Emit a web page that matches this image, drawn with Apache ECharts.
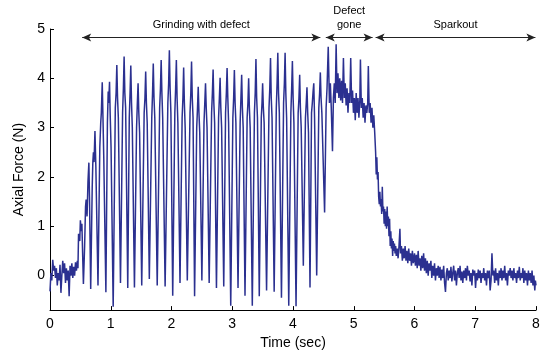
<!DOCTYPE html>
<html>
<head>
<meta charset="utf-8">
<script src="https://cdn.jsdelivr.net/npm/echarts@6/dist/echarts.min.js"></script>
<style>html,body{margin:0;padding:0;background:#fff}#c{width:558px;height:355px}</style>
</head>
<body>
<div id="c"></div>
<script>
// ---- data (time in s, axial force in N) ----
const baselineNoise = [
  [0.00,-0.32],[0.015,0.05],[0.03,-0.1],[0.045,0.32],[0.06,0.1],[0.075,0.2],[0.09,-0.05],[0.105,0.15],
  [0.12,-0.2],[0.135,0.05],[0.15,-0.1],[0.165,0.22],[0.18,-0.35],[0.195,0.0],[0.21,0.3],[0.225,0.05],
  [0.24,0.25],[0.255,-0.15],[0.27,0.15],[0.285,-0.1],[0.30,0.1],[0.315,-0.42],[0.33,0.2],[0.345,0.0],
  [0.36,0.25],[0.375,-0.05],[0.39,0.18],[0.405,0.0],[0.42,0.27],[0.435,0.1],[0.45,0.3],[0.46,0.15],
  [0.47,0.85],[0.49,0.7],[0.50,1.12],[0.515,0.9],[0.525,1.05],[0.54,0.3]
];
const grindingCycles = [
  [0.55,-0.17],[0.57,0.6],[0.585,1.4],[0.595,1.54],[0.61,1.2],[0.625,1.9],[0.64,2.29],[0.65,1.6],
  [0.67,-0.27],[0.695,1.8],[0.705,2.3],[0.715,2.5],[0.725,2.3],[0.74,2.93],[0.755,2.2],
  [0.79,-0.2],[0.82,2.6],[0.835,3.1],[0.845,3.3],[0.86,3.92],[0.872,3.2],[0.885,2.4],
  [0.92,-0.34],[0.945,3.1],[0.958,3.73],[0.966,3.5],[0.98,3.93],[0.99,3.3],[1.005,2.6],
  [1.04,-0.63],[1.075,3.4],[1.088,3.7],[1.10,4.27],[1.112,3.6],[1.125,3.2],
  [1.16,-0.15],[1.195,3.3],[1.208,3.8],[1.22,4.44],[1.232,3.7],[1.245,3.4],
  [1.28,-0.25],[1.305,3.2],[1.318,3.7],[1.33,4.26],[1.342,3.5],[1.355,3.0],
  [1.39,-0.24],[1.425,3.0],[1.438,3.5],[1.45,3.9],[1.462,3.3],[1.475,2.9],
  [1.51,-0.2],[1.55,3.3],[1.563,3.6],[1.575,4.14],[1.587,3.5],[1.60,3.1],
  [1.635,-0.07],[1.675,3.2],[1.688,3.7],[1.70,4.3],[1.712,3.6],[1.725,3.2],
  [1.765,-0.2],[1.805,3.4],[1.818,3.8],[1.83,4.37],[1.842,3.7],[1.855,3.2],
  [1.895,-0.22],[1.94,3.5],[1.953,3.9],[1.965,4.57],[1.977,3.8],[1.99,3.3],
  [2.02,-0.41],[2.055,3.3],[2.068,3.8],[2.08,4.37],[2.092,3.6],[2.105,3.1],
  [2.14,-0.15],[2.175,3.2],[2.188,3.6],[2.20,4.22],[2.212,3.5],[2.225,3.0],
  [2.26,-0.1],[2.305,3.3],[2.318,3.7],[2.33,4.34],[2.342,3.6],[2.355,3.2],
  [2.38,-0.42],[2.415,3.0],[2.428,3.4],[2.44,3.83],[2.452,3.3],[2.465,2.9],
  [2.50,-0.1],[2.535,3.1],[2.548,3.5],[2.56,3.9],[2.572,3.4],[2.585,3.0],
  [2.62,-0.15],[2.66,3.3],[2.673,3.7],[2.685,4.18],[2.697,3.5],[2.71,3.1],
  [2.74,-0.25],[2.775,3.2],[2.788,3.6],[2.80,4.01],[2.812,3.4],[2.825,3.0],
  [2.86,-0.22],[2.89,3.3],[2.903,3.7],[2.915,4.21],[2.927,3.6],[2.94,3.1],
  [2.975,-0.61],[3.01,3.2],[3.023,3.6],[3.035,4.17],[3.047,3.5],[3.06,3.1],
  [3.095,-0.25],[3.13,3.1],[3.143,3.6],[3.155,4.07],[3.167,3.4],[3.18,3.0],
  [3.21,-0.41],[3.245,3.2],[3.258,3.5],[3.27,4.0],[3.282,3.4],[3.295,3.0],
  [3.33,-0.61],[3.365,3.3],[3.378,3.7],[3.39,4.39],[3.402,3.6],[3.415,3.2],
  [3.445,-0.42],[3.478,3.2],[3.49,3.5],[3.50,3.9],[3.512,3.4],[3.525,3.1],
  [3.565,-0.3],[3.605,3.4],[3.618,3.8],[3.63,4.41],[3.642,3.6],[3.655,3.2],
  [3.69,-0.33],[3.725,3.4],[3.738,3.9],[3.75,4.52],[3.762,3.7],[3.775,3.3],
  [3.81,-0.45],[3.845,3.5],[3.858,3.9],[3.87,4.52],[3.882,3.7],[3.895,3.2],
  [3.93,-0.61],[3.965,3.3],[3.978,3.8],[3.99,4.35],[4.002,3.6],[4.015,3.1],
  [4.05,-0.62],[4.085,3.3],[4.098,3.6],[4.11,4.07],[4.122,3.4],[4.135,3.0],
  [4.17,0.2],[4.205,3.2],[4.218,3.5],[4.23,3.82],[4.242,3.3],[4.255,2.9],
  [4.28,-0.24],[4.305,3.3],[4.318,3.5],[4.33,3.72],[4.342,3.9],[4.355,3.2],
  [4.39,0.0],[4.425,3.4],[4.438,3.7],[4.45,4.12],[4.462,3.6],[4.475,3.3],
  [4.52,1.28],[4.545,3.4],[4.56,3.8]
];
const defectGone = [
  [4.58,4.64],[4.60,3.5],[4.615,3.9],[4.63,3.4],[4.65,2.52],[4.665,3.6],[4.68,3.9],[4.695,3.5],
  [4.71,4.69],[4.725,3.7],[4.74,4.1],[4.755,3.6],[4.77,4.0],[4.785,3.55],[4.80,3.95],[4.815,3.5],
  [4.83,4.41],[4.845,3.6],[4.86,3.9],[4.875,3.45],[4.89,3.8],[4.905,3.3],[4.92,3.7],[4.935,3.5],
  [4.95,4.41],[4.965,3.5],[4.98,3.75],[4.995,3.3],[5.01,3.6],[5.025,3.15],[5.04,3.7],[5.055,3.3],
  [5.07,3.6],[5.085,3.2],[5.10,3.55],[5.11,4.38],[5.125,3.4],[5.14,3.6],[5.155,3.2],[5.17,3.5],
  [5.185,3.1],[5.20,3.45],[5.215,3.3],[5.23,3.5],[5.24,4.25],[5.255,3.3],[5.27,3.5],[5.285,3.1],
  [5.30,3.4],[5.315,3.0],[5.33,3.25],[5.345,2.9],[5.36,2.5],[5.37,2.05]
];
const sparkout = [
  [5.38,2.4],[5.39,1.95],[5.40,2.1],[5.41,1.6],[5.42,1.45],[5.43,1.7],[5.44,1.4],[5.45,1.55],
  [5.46,1.25],[5.47,1.8],[5.48,1.3],[5.49,1.4],[5.50,1.05],[5.51,1.35],[5.52,1.0],[5.53,1.3],
  [5.54,0.95],[5.55,1.4],[5.56,1.0],[5.57,1.2],[5.58,0.8],[5.59,1.15],[5.60,0.6],[5.61,0.9],
  [5.62,0.55],[5.63,0.75],[5.64,0.4],[5.65,0.7],[5.66,0.5],[5.67,0.65],[5.68,0.45],[5.69,0.6],
  [5.70,0.4],[5.715,0.55],[5.73,0.35],[5.745,0.6],[5.76,0.95],[5.77,0.45],[5.785,0.6],[5.80,0.3],
  [5.815,0.55],[5.83,0.35],[5.845,0.6],[5.86,0.3],[5.875,0.5],[5.89,0.25],[5.905,0.55],[5.92,0.3],
  [5.935,0.45],[5.95,0.2],[5.965,0.5],[5.98,0.25],[6.00,0.45],[6.015,0.2],[6.03,0.42],[6.045,0.15],
  [6.06,0.5],[6.075,0.2],[6.09,0.35],[6.105,0.1],[6.12,0.4],[6.135,0.15],[6.15,0.45],[6.165,0.1],
  [6.18,0.35],[6.195,0.05],[6.21,0.3],[6.225,0.0],[6.24,0.25],[6.255,0.1],[6.27,0.3],[6.285,-0.05],
  [6.30,0.2],[6.315,0.0],[6.33,0.25],[6.345,-0.1],[6.36,0.15],[6.375,0.0],[6.39,0.2],[6.405,-0.05],
  [6.42,0.18],[6.435,-0.1],[6.45,0.12],[6.465,-0.05],[6.48,0.2],[6.495,-0.15],[6.51,-0.33],[6.525,0.05],
  [6.54,0.15],[6.555,-0.1],[6.57,0.1],[6.585,-0.05],[6.60,0.18],[6.615,-0.12],[6.63,0.05],[6.645,0.2],
  [6.66,-0.1],[6.675,0.1],[6.69,-0.2],[6.705,0.05],[6.72,0.15],[6.735,-0.05],[6.75,0.2],[6.765,-0.1],
  [6.78,0.08],[6.795,-0.15],[6.81,0.1],[6.825,-0.05],[6.84,0.15],[6.855,-0.1],[6.87,0.2],[6.885,0.0],
  [6.90,0.1],[6.915,-0.12],[6.93,0.05],[6.945,-0.2],[6.96,0.12],[6.975,0.0],[6.99,0.1],[7.005,-0.25],
  [7.02,0.05],[7.035,-0.1],[7.05,0.12],[7.065,-0.05],[7.08,0.1],[7.095,-0.15],[7.11,0.05],[7.125,-0.05],
  [7.14,0.15],[7.155,-0.1],[7.17,0.05],[7.185,-0.2],[7.20,0.1],[7.215,-0.05],[7.23,0.1],[7.245,-0.3],
  [7.26,-0.1],[7.275,0.45],[7.29,0.0],[7.305,0.1],[7.32,-0.15],[7.335,0.15],[7.35,-0.1],[7.365,0.05],
  [7.38,-0.2],[7.395,0.1],[7.41,-0.05],[7.425,0.15],[7.44,-0.1],[7.455,0.1],[7.47,-0.05],[7.485,0.2],
  [7.50,-0.1],[7.515,0.05],[7.53,-0.2],[7.545,0.1],[7.56,0.0],[7.575,0.15],[7.59,-0.05],[7.605,0.1],
  [7.62,-0.1],[7.635,0.15],[7.65,-0.05],[7.665,0.05],[7.68,-0.15],[7.695,0.1],[7.71,-0.05],[7.725,0.18],
  [7.74,-0.1],[7.755,0.05],[7.77,-0.05],[7.785,0.15],[7.80,-0.15],[7.815,0.1],[7.83,-0.1],[7.845,0.05],
  [7.86,-0.2],[7.875,0.1],[7.89,-0.1],[7.905,0.05],[7.92,-0.15],[7.935,0.1],[7.95,-0.2],[7.965,0.0],
  [7.98,-0.3],[7.99,-0.1],[8.00,-0.2]
];
const xTicks = [0,1,2,3,4,5,6,7,8];
const yTicks = [0,1,2,3,4,5];
const phaseNames = ['Grinding with defect', 'Defect\ngone', 'Sparkout'];
const phaseStart = [0.53, 4.54, 5.36];
const phaseEnd = [4.45, 5.31, 7.99];
const arrowLevel = 4.83;

const signal = baselineNoise.concat(grindingCycles, defectGone, sparkout);
const FONT = 'Liberation Sans, Arial, Helvetica, sans-serif';

const chart = echarts.init(document.getElementById('c'), null, {renderer: 'canvas'});
chart.setOption({
  animation: false,
  backgroundColor: '#fff',
  grid: {left: 50, right: 22, top: 29, bottom: 44, containLabel: false},
  xAxis: {
    type: 'value', min: 0, max: 8, interval: 1,
    name: 'Time (sec)', nameLocation: 'middle', nameGap: 25,
    nameTextStyle: {fontFamily: FONT, fontSize: 14, color: '#000'},
    axisLine: {show: true, onZero: false, lineStyle: {color: '#000', width: 1}},
    axisTick: {show: true, inside: true, length: 4, lineStyle: {color: '#000'}},
    axisLabel: {fontFamily: FONT, fontSize: 14, color: '#000', margin: 7,
      customValues: xTicks},
    splitLine: {show: false}
  },
  yAxis: {
    type: 'value', min: -0.7, max: 5,
    name: 'Axial Force (N)', nameLocation: 'middle', nameGap: 24, nameRotate: 90,
    nameTextStyle: {fontFamily: FONT, fontSize: 14, color: '#000'},
    axisLine: {show: true, onZero: false, lineStyle: {color: '#000', width: 1}},
    axisTick: {show: true, inside: true, length: 4, lineStyle: {color: '#000'}, customValues: yTicks},
    axisLabel: {fontFamily: FONT, fontSize: 14, color: '#000', margin: 5, customValues: yTicks},
    splitLine: {show: false}
  },
  series: [{
    type: 'line',
    data: signal,
    showSymbol: false,
    symbol: 'none',
    lineStyle: {color: '#2b3090', width: 1.5},
    z: 2,
    markLine: {
      silent: true,
      symbol: ['arrow', 'arrow'],
      symbolSize: [6, 9],
      lineStyle: {color: '#222', width: 1, type: 'solid'},
      label: {show: true, position: 'insideMiddleTop', distance: 5,
        fontFamily: FONT, fontSize: 11, color: '#000', lineHeight: 14,
        formatter: p => p.name},
      data: phaseNames.map((n, i) => [
        {name: n, coord: [phaseStart[i], arrowLevel]},
        {coord: [phaseEnd[i], arrowLevel]}
      ])
    }
  }]
});
</script>
</body>
</html>
